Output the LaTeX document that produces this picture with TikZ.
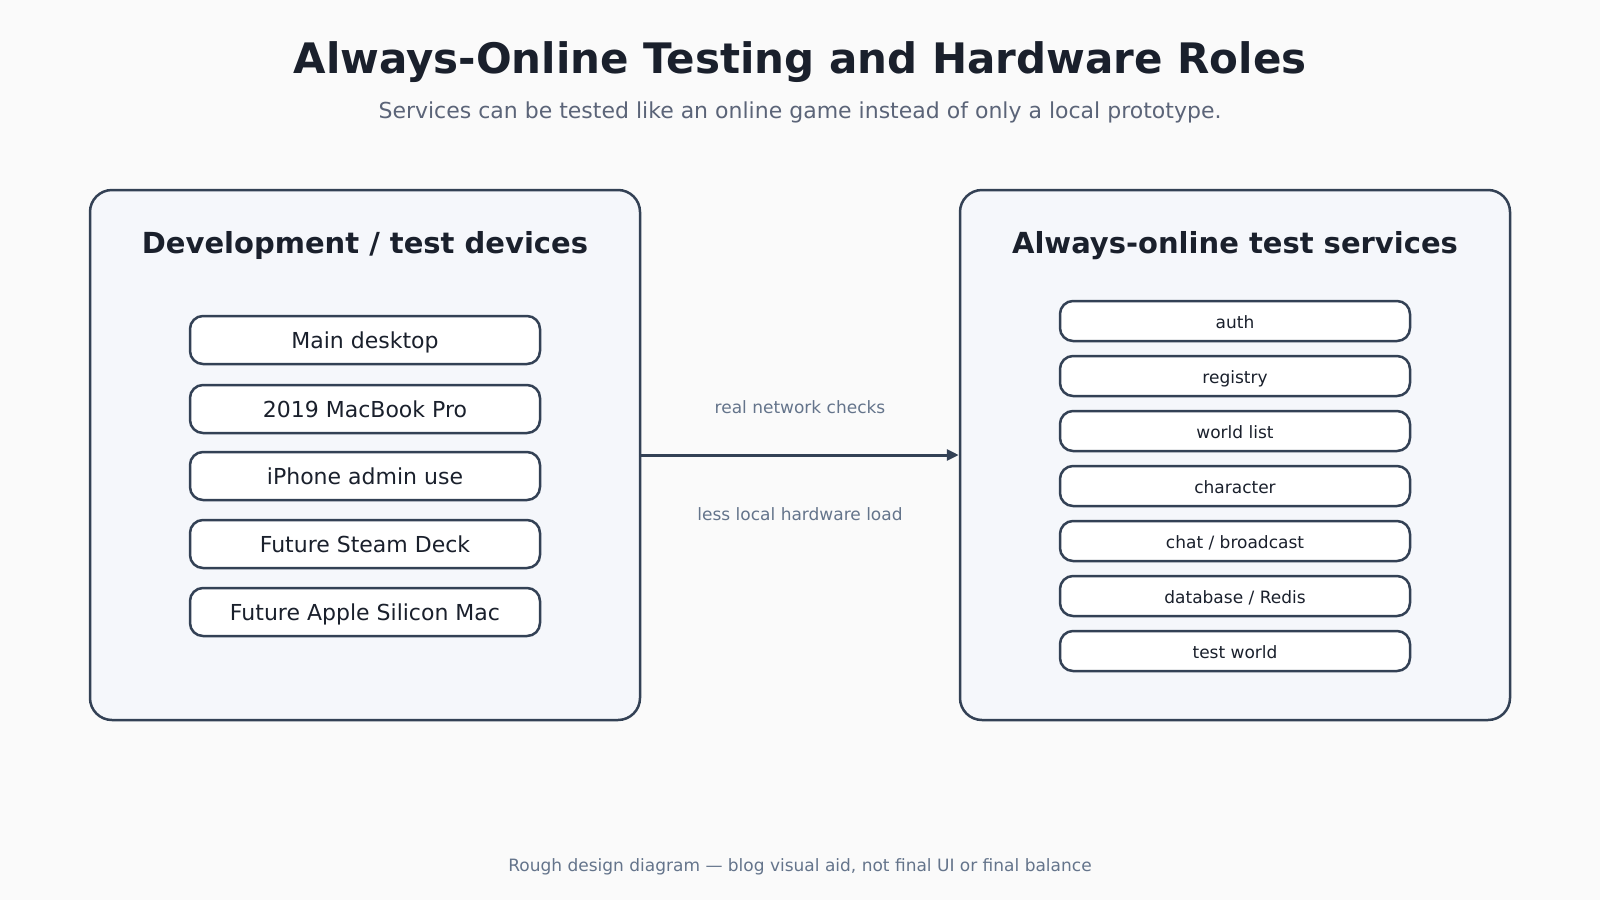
\documentclass[tikz,border=0pt]{standalone}
\usepackage{fontspec}
\setmainfont{DejaVu Sans}
\usepackage{tikz}
\usetikzlibrary{arrows.meta}
\definecolor{bgcol}{HTML}{FAFAFA}
\definecolor{panelcol}{HTML}{F5F7FB}
\definecolor{linecol}{HTML}{334155}
\definecolor{inkcol}{HTML}{1A202C}
\definecolor{mutedcol}{HTML}{5B6478}
\definecolor{notecol}{HTML}{64748B}

\begin{document}
\begin{tikzpicture}[x=1pt,y=-1pt,
    panel/.style={draw=linecol, line width=2.5pt, fill=panelcol, rounded corners=22pt, minimum width=550pt, minimum height=530pt},
    device/.style={draw=linecol, line width=2.5pt, fill=white, rounded corners=13pt, minimum width=350pt, minimum height=48pt, text height=19pt, text depth=2pt, text=inkcol, font=\fontsize{22}{26}\selectfont},
    service/.style={draw=linecol, line width=2.5pt, fill=white, rounded corners=13pt, minimum width=350pt, minimum height=40pt, text height=15pt, text depth=1pt, text=inkcol, font=\fontsize{17}{20}\selectfont},
    head/.style={text=inkcol, font=\bfseries\fontsize{29}{34}\selectfont}]
      \fill[bgcol] (0,0) rectangle (1600,900);
      \useasboundingbox (0,0) rectangle (1600,900);
      \node[name=title, text=inkcol, font=\bfseries\fontsize{42}{50}\selectfont] at (800,62){Always-Online Testing and Hardware Roles};
      \node[name=subtitle, text=mutedcol, font=\fontsize{22}{26}\selectfont] at (800,112){Services can be tested like an online game instead of only a local prototype.};
      % left panel
      \node[name=devpanel, panel] at (365,455){};
      \node[name=devhead, head] at (365,245){Development / test devices};
      \node[name=d1, device] at (365,340){Main desktop};
      \node[name=d2, device] at (365,409){2019 MacBook Pro};
      \node[name=d3, device] at (365,476){iPhone admin use};
      \node[name=d4, device] at (365,544){Future Steam Deck};
      \node[name=d5, device] at (365,612){Future Apple Silicon Mac};
      % right panel
      \node[name=svcpanel, panel] at (1235,455){};
      \node[name=svchead, head] at (1235,246){Always-online test services};
      \node[name=s1, service] at (1235,321){auth};
      \node[name=s2, service] at (1235,376){registry};
      \node[name=s3, service] at (1235,431){world list};
      \node[name=s4, service] at (1235,486){character};
      \node[name=s5, service] at (1235,541){chat / broadcast};
      \node[name=s6, service] at (1235,596){database / Redis};
      \node[name=s7, service] at (1235,651){test world};
      % link
      \draw[draw=linecol, line width=3pt, -{Triangle[length=12pt,width=11pt]}] (devpanel.east) -- (svcpanel.west);
      \node[name=upnote, text=notecol, font=\fontsize{17}{20}\selectfont] at (800,407){real network checks};
      \node[name=lownote, text=notecol, font=\fontsize{17}{20}\selectfont] at (800,514){less local hardware load};
      \node[name=footer, text=notecol, font=\fontsize{17}{20}\selectfont] at (800,867){Rough design diagram — blog visual aid, not final UI or final balance};
    \end{tikzpicture}
\end{document}
